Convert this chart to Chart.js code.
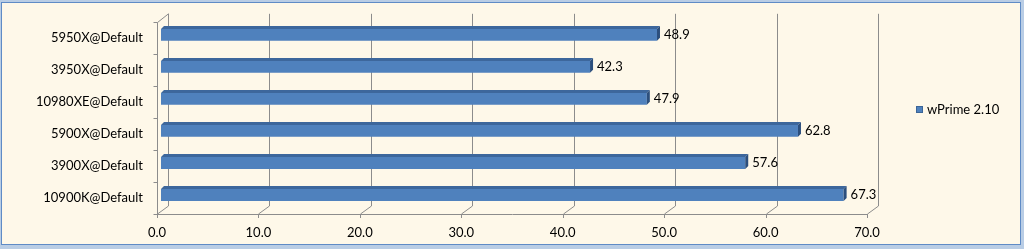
<!DOCTYPE html>
<html>
<head>
<meta charset="utf-8">
<script src="https://cdn.jsdelivr.net/npm/chart.js@4.4.1/dist/chart.umd.min.js"></script>
<style>
  html, body { margin: 0; padding: 0; background: #b9cde5; }
  canvas { display: block; }
</style>
</head>
<body>
<canvas id="myChart" width="1024" height="249"></canvas>
<script>
// chart data
const cpuLabels = ['5950X@Default', '3950X@Default', '10980XE@Default', '5900X@Default', '3900X@Default', '10900K@Default'];
const wprimeScores = [48.9, 42.3, 47.9, 62.8, 57.6, 67.3];
const seriesName = 'wPrime 2.10';
const axisMin = 0;
const axisMax = 70;
const axisStep = 10;

const barFront = '#4f81bd';
const barTop = '#3d679c';
const barSide = '#2c4f7d';
const gridColor = '#8c8c8c';
const wallDx = 11, wallDy = -8;   // depth of the "3d" floor / back wall
const barDx = 3, barDy = -3;      // depth of the bars themselves
const barShiftX = 4, barShiftY = -3;

Chart.defaults.font.family = 'Lato, "Open Sans", sans-serif';
Chart.defaults.font.size = 13;
Chart.defaults.color = '#000';

const excel3d = {
  id: 'excel3d',
  beforeDraw(chart) {
    const ctx = chart.ctx;
    ctx.save();
    ctx.fillStyle = '#b9cde5';
    ctx.fillRect(0, 0, chart.width, chart.height);
    ctx.fillStyle = '#fef8e9';
    ctx.fillRect(2, 2, 1019, 243);
    ctx.strokeStyle = '#5f8bc6';
    ctx.lineWidth = 1;
    ctx.strokeRect(1.5, 2.5, 1019, 242);
    ctx.restore();
  },
  beforeDatasetsDraw(chart) {
    const ctx = chart.ctx;
    const xs = chart.scales.x;
    const ys = chart.scales.y;
    const a = chart.chartArea;
    ctx.save();
    ctx.strokeStyle = gridColor;
    ctx.lineWidth = 1;
    ctx.beginPath();
    // back wall gridlines + floor slants + front ticks
    xs.ticks.forEach(t => {
      const px = Math.round(xs.getPixelForValue(t.value)) + 0.5;
      ctx.moveTo(px + wallDx, a.top + wallDy);
      ctx.lineTo(px + wallDx, a.bottom + wallDy);
      ctx.lineTo(px, a.bottom);
      ctx.lineTo(px, a.bottom + 4);
    });
    // front floor edge
    const left = Math.round(a.left) + 0.5;
    const bottom = Math.round(a.bottom) + 0.5;
    ctx.moveTo(left, bottom);
    ctx.lineTo(Math.round(a.right) + 0.5, bottom);
    // left front edge with category ticks
    const top = Math.round(a.top) + 0.5;
    ctx.moveTo(left + wallDx, a.top + wallDy);
    ctx.lineTo(left, top);
    ctx.lineTo(left, bottom);
    const n = ys.ticks.length;
    for (let i = 0; i <= n; i++) {
      const py = Math.round(a.top + (a.bottom - a.top) * i / n) + 0.5;
      ctx.moveTo(left - 4, py);
      ctx.lineTo(left, py);
    }
    ctx.stroke();
    ctx.restore();

    ctx.save();
    ctx.translate(barShiftX, barShiftY);
  },
  afterDatasetsDraw(chart) {
    const ctx = chart.ctx;
    ctx.restore();
    const meta = chart.getDatasetMeta(0);
    ctx.save();
    meta.data.forEach((bar, i) => {
      const x0 = bar.base + barShiftX;
      const x1 = bar.x + barShiftX;
      const yT = bar.y - bar.height / 2 + barShiftY;
      const yB = bar.y + bar.height / 2 + barShiftY;
      ctx.fillStyle = barTop;
      ctx.beginPath();
      ctx.moveTo(x0, yT);
      ctx.lineTo(x0 + barDx, yT + barDy);
      ctx.lineTo(x1 + barDx, yT + barDy);
      ctx.lineTo(x1, yT);
      ctx.closePath();
      ctx.fill();
      ctx.fillStyle = barSide;
      ctx.beginPath();
      ctx.moveTo(x1, yT);
      ctx.lineTo(x1 + barDx, yT + barDy);
      ctx.lineTo(x1 + barDx, yB + barDy);
      ctx.lineTo(x1, yB);
      ctx.closePath();
      ctx.fill();

      ctx.fillStyle = '#000';
      ctx.font = '13px Lato, "Open Sans", sans-serif';
      ctx.textAlign = 'left';
      ctx.textBaseline = 'middle';
      ctx.fillText(wprimeScores[i].toFixed(1), x1 + barDx + 4, (yT + yB) / 2);
    });

    // legend
    ctx.fillStyle = barFront;
    ctx.fillRect(916, 106, 7, 7);
    ctx.strokeStyle = '#3b6597';
    ctx.strokeRect(916.5, 106.5, 6, 6);
    ctx.fillStyle = '#000';
    ctx.textAlign = 'left';
    ctx.textBaseline = 'middle';
    ctx.fillText(seriesName, 927, 110);
    ctx.restore();
  }
};

const ctx = document.getElementById('myChart').getContext('2d');
const myChart = new Chart(ctx, {
  type: 'bar',
  data: {
    labels: cpuLabels,
    datasets: [{
      label: seriesName,
      data: wprimeScores,
      backgroundColor: barFront,
      borderWidth: 0,
      barPercentage: 0.37,
      categoryPercentage: 1,
      clip: false
    }]
  },
  options: {
    indexAxis: 'y', // horizontal bars
    responsive: false,
    animation: false,
    devicePixelRatio: 1,
    layout: {
      padding: { left: 0, top: 15, right: 157, bottom: 0 }
    },
    scales: {
      x: {
        min: axisMin,
        max: axisMax,
        grid: { display: false, drawTicks: false },
        border: { display: false },
        ticks: {
          stepSize: axisStep,
          padding: 11,
          callback: v => Number(v).toFixed(1)
        },
        afterFit: s => { s.height = 35; }
      },
      y: {
        grid: { display: false, drawTicks: false },
        border: { display: false },
        ticks: { padding: 14 },
        afterFit: s => { s.width = 157; }
      }
    },
    plugins: {
      legend: { display: false },
      tooltip: { enabled: false }
    }
  },
  plugins: [excel3d]
});
</script>
</body>
</html>
